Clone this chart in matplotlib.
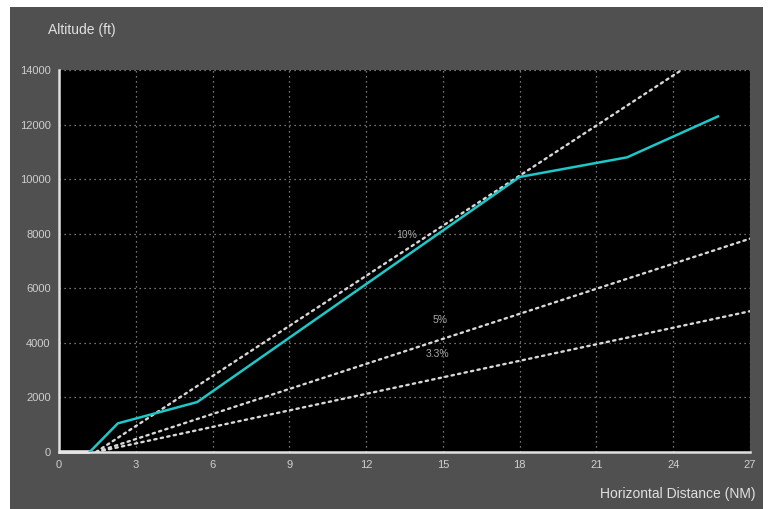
import matplotlib
matplotlib.use("Agg")
import matplotlib.pyplot as plt
from matplotlib.patches import Rectangle

# departure climb profile (NM, ft)
dist_nm = [0, 1.2, 2.3, 5.4, 18.0, 22.2, 25.75]
alt_ft = [0, 0, 1050, 1830, 10080, 10800, 12300]

# reference climb gradients
grad_names = ["10%", "5%", "3.3%"]
grad_pct = [10.0, 5.0, 3.3]
grad_start = 1.45
label_pos = [(13.6, 7950), (14.9, 4850), (14.8, 3600)]

x_ticks = [0, 3, 6, 9, 12, 15, 18, 21, 24, 27]
y_ticks = [0, 2000, 4000, 6000, 8000, 10000, 12000, 14000]

plt.rcParams['font.family'] = ['Liberation Sans', 'DejaVu Sans']

fig = plt.figure(figsize=(7.7, 5.09), dpi=100)
fig.patch.set_facecolor('white')
# dark panel behind the chart
fig.patches.append(Rectangle((10 / 770, 0), 753 / 770, 502 / 509,
                             transform=fig.transFigure, facecolor='#505050',
                             edgecolor='none', zorder=-1))

ax = fig.add_axes([59 / 770, 1 - 452 / 509, 691 / 770, 382 / 509])
ax.set_zorder(2)
ax.set_facecolor('black')

for name, pct, (lx, ly) in zip(grad_names, grad_pct, label_pos):
    slope = 6120.0 * pct / 100.0
    xs = [grad_start, 27]
    ys = [0, (27 - grad_start) * slope]
    ax.plot(xs, ys, color='#d8d8d8', lw=1.7, ls=(0, (1, 1.8)),
            dash_capstyle='round', zorder=3)
    ax.text(lx, ly, name, color='#a8a8a8', fontsize=7.5, ha='center', va='center', zorder=5)

# ground run before rotation
ax.plot(dist_nm[:2], alt_ft[:2], color='#e6e6e6', lw=2.6, zorder=4,
        solid_capstyle='butt', clip_on=False)
ax.plot(dist_nm[1:], alt_ft[1:], color='#1ec8c8', lw=1.8, zorder=4)

ax.set_xlim(0, 27)
ax.set_ylim(0, 14000)
ax.set_xticks(x_ticks)
ax.set_yticks(y_ticks)
ax.grid(True, color='#9a9a9a', ls=(0, (1, 3)), lw=0.9)
ax.tick_params(length=0, colors='#cfcfcf', labelsize=8, pad=6)

for side in ['top', 'right']:
    ax.spines[side].set_visible(False)
for side in ['left', 'bottom']:
    ax.spines[side].set_color('#e0e0e0')
    ax.spines[side].set_linewidth(1.8)

fig.text(48 / 770, 1 - 30 / 509, "Altitude (ft)", color='#e0e0e0', fontsize=10,
         ha='left', va='center')
fig.text(755 / 770, 1 - 494 / 509, "Horizontal Distance (NM)", color='#e0e0e0',
         fontsize=10, ha='right', va='center')

fig.savefig('out.png', dpi=100)
